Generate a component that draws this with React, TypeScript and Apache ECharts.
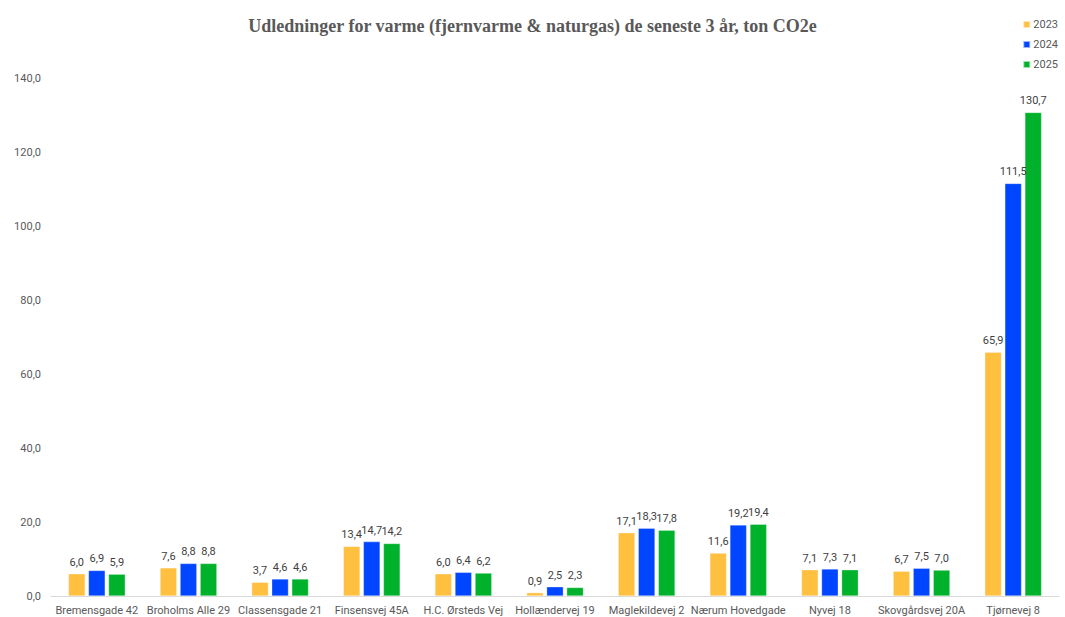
import React, { useEffect, useRef } from "react";
import * as echarts from "echarts";

const categories = [
  "Bremensgade 42",
  "Broholms Alle 29",
  "Classensgade 21",
  "Finsensvej 45A",
  "H.C. Ørsteds Vej",
  "Hollændervej 19",
  "Maglekildevej 2",
  "Nærum Hovedgade",
  "Nyvej 18",
  "Skovgårdsvej 20A",
  "Tjørnevej 8",
];
const values2023 = [6.0, 7.6, 3.7, 13.4, 6.0, 0.9, 17.1, 11.6, 7.1, 6.7, 65.9];
const values2024 = [6.9, 8.8, 4.6, 14.7, 6.4, 2.5, 18.3, 19.2, 7.3, 7.5, 111.5];
const values2025 = [5.9, 8.8, 4.6, 14.2, 6.2, 2.3, 17.8, 19.4, 7.1, 7.0, 130.7];
const seriesNames = ["2023", "2024", "2025"];
const colors = ["#FFBF3F", "#0045FF", "#00B22B"];

const fmt = (v: number) => v.toFixed(1).replace(".", ",");

export default function App() {
  const ref = useRef<HTMLDivElement>(null);
  useEffect(() => {
    if (!ref.current) return;
    const chart = echarts.init(ref.current, undefined, { renderer: "svg" });
    const font = "Roboto, 'Noto Sans', sans-serif";
    const data = [values2023, values2024, values2025];
    chart.setOption({
      animation: false,
      backgroundColor: "#ffffff",
      title: {
        text: "Udledninger for varme (fjernvarme & naturgas) de seneste 3 år, ton CO2e",
        left: "center",
        top: 12,
        textStyle: {
          fontFamily: "'Liberation Serif', 'DejaVu Serif', serif",
          fontWeight: "bold",
          fontSize: 18,
          color: "#595959",
        },
      },
      legend: {
        orient: "vertical",
        right: 2,
        top: 14,
        itemWidth: 7,
        itemHeight: 7,
        itemGap: 9,
        icon: "rect",
        textStyle: { fontFamily: font, fontSize: 11, color: "#595959", padding: [0, 0, 0, -2] },
        data: seriesNames,
      },
      grid: { left: 51, right: 6, top: 78, bottom: 21, containLabel: false },
      xAxis: {
        type: "category",
        data: categories,
        axisLine: { lineStyle: { color: "#D9D9D9", width: 1 } },
        axisTick: { show: false },
        axisLabel: { fontFamily: font, fontSize: 11, color: "#595959", margin: 9, interval: 0 },
      },
      yAxis: {
        type: "value",
        min: 0,
        max: 140,
        interval: 20,
        splitLine: { show: false },
        axisLine: { show: false },
        axisTick: { show: false },
        axisLabel: {
          fontFamily: font,
          fontSize: 11,
          color: "#595959",
          margin: 10,
          formatter: (v: number) => fmt(v),
        },
      },
      series: seriesNames.map((name, i) => ({
        name,
        type: "bar",
        data: data[i],
        barGap: "20%",
        barCategoryGap: "38%",
        itemStyle: { color: colors[i], borderColor: "rgba(255,255,255,0.6)", borderWidth: 0.5 },
        label: {
          show: true,
          position: "top",
          distance: 6,
          fontFamily: font,
          fontSize: 11,
          color: "#404040",
          formatter: (p: any) => fmt(p.value),
        },
      })),
    });
    return () => chart.dispose();
  }, []);
  return <div ref={ref} style={{ width: 1065, height: 617, position: "absolute", left: 0, top: 0 }} />;
}
